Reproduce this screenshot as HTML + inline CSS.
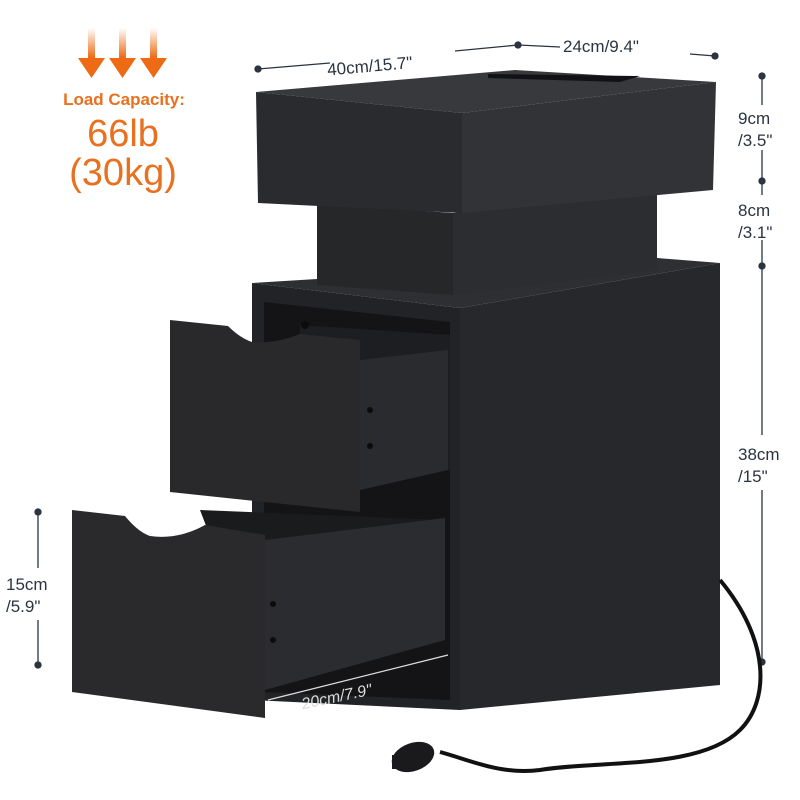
<!DOCTYPE html>
<html><head><meta charset="utf-8"><style>
html,body{margin:0;padding:0;background:#fff;width:800px;height:800px;overflow:hidden}
svg{display:block}
text{font-family:"Liberation Sans",sans-serif}
</style></head><body>
<svg width="800" height="800" viewBox="0 0 800 800" xmlns="http://www.w3.org/2000/svg">
<defs>
<linearGradient id="ag" x1="0" y1="0" x2="0" y2="1"><stop offset="0" stop-color="#ee6a14" stop-opacity="0"/><stop offset="1" stop-color="#ee6a14"/></linearGradient>
</defs>
<g fill="url(#ag)"><rect x="88" y="28" width="7" height="30"/><rect x="119" y="28" width="7" height="30"/><rect x="150" y="28" width="7" height="30"/></g>
<g fill="#ee6a14"><polygon points="78,58 105,58 91.5,78"/><polygon points="109,58 136,58 122.5,78"/><polygon points="140,58 167,58 153.5,78"/></g>
<text x="124" y="105" font-size="17" font-weight="bold" fill="#e8701e" text-anchor="middle">Load Capacity:</text>
<text x="123" y="146" font-size="38" fill="#e8701e" text-anchor="middle">66lb</text>
<text x="123" y="185" font-size="38" fill="#e8701e" text-anchor="middle">(30kg)</text>

<g stroke="#2b3440" stroke-width="1.3" fill="#2b3440">
<line x1="258" y1="69" x2="330" y2="63"/><line x1="455" y1="51" x2="518" y2="45"/>
<line x1="518" y1="45" x2="560" y2="47"/><line x1="690" y1="54" x2="715" y2="56"/>
<circle cx="258" cy="69" r="3"/><circle cx="518" cy="45" r="3"/><circle cx="715" cy="56" r="3"/>
<line x1="762" y1="76" x2="762" y2="105"/><line x1="762" y1="150" x2="762" y2="195"/><line x1="762" y1="240" x2="762" y2="435"/><line x1="762" y1="490" x2="762" y2="662"/>
<circle cx="762" cy="76" r="3"/><circle cx="762" cy="181" r="3"/><circle cx="762" cy="266" r="3"/><circle cx="762" cy="662" r="3"/>
<line x1="38" y1="512" x2="38" y2="568"/><line x1="38" y1="620" x2="38" y2="665"/>
<circle cx="38" cy="512" r="3"/><circle cx="38" cy="665" r="3"/>
</g>
<g font-size="17" fill="#2b3440">
<text x="327" y="70" transform="rotate(-5 390 64)">40cm/15.7"</text>
<text x="563" y="52">24cm/9.4"</text>
<text x="738" y="124">9cm</text><text x="738" y="146">/3.5"</text>
<text x="738" y="216">8cm</text><text x="738" y="238">/3.1"</text>
<text x="738" y="460">38cm</text><text x="738" y="482">/15"</text>
<text x="6" y="590">15cm</text><text x="6" y="612">/5.9"</text>
</g>

<polygon points="252,283 657,258 720,263 460,308" fill="#2e2f33"/>
<polygon points="460,308 720,263 720,685 460,710" fill="#27282b"/>
<polygon points="252,283 460,308 460,710 252,700" fill="#222326"/>
<polygon points="264,302 450,322 450,700 264,692" fill="#141416"/>
<polygon points="300,325 450,335 450,470 360,480 300,470" fill="#1d1e21"/>
<polygon points="360,360 448,350 448,470 360,490" fill="#2a2b2e"/>
<path d="M170,320 L228,326 Q240,338 252,342 Q275,344 300,334 L360,340 L360,512 L170,492 Z" fill="#29292c"/>
<polygon points="200,510 445,520 445,640 265,680" fill="#1a1b1d"/>
<polygon points="265,540 445,518 445,640 265,690" fill="#2b2c2f"/>
<path d="M72,510 L125,516 Q138,532 150,536 Q178,540 205,525 L265,535 L265,718 L72,692 Z" fill="#2a2a2d"/>
<g fill="#0c0c0d"><circle cx="370" cy="410" r="3"/><circle cx="370" cy="446" r="3"/><circle cx="273" cy="604" r="3"/><circle cx="273" cy="640" r="3"/><circle cx="305" cy="325" r="4"/></g>
<line x1="268" y1="700" x2="448" y2="655" stroke="#ddd" stroke-width="1.3"/>
<text x="300" y="697" font-size="16" fill="#ddd" font-style="italic" transform="rotate(-12 360 690)">20cm/7.9"</text>

<polygon points="317,203 453,213 453,295 317,285" fill="#262729"/>
<polygon points="453,213 657,190 657,270 453,295" fill="#2c2d30"/>
<polygon points="256,92 515,70 716,82 462,113" fill="#38393c"/>
<polygon points="256,92 462,113 462,213 258,203" fill="#2a2b2e"/>
<polygon points="462,113 716,82 713,190 462,213" fill="#323336"/>
<polygon points="488,74 640,76 620,82 488,78" fill="#121214"/>

<path d="M720,580 C770,640 770,700 740,730 C700,770 600,760 540,770 C500,775 470,760 440,752" stroke="#111" stroke-width="4" fill="none"/>
<ellipse cx="413" cy="757" rx="22" ry="14" fill="#1a1a1c" transform="rotate(-20 413 757)"/>
<rect x="392" y="755" width="10" height="14" fill="#1a1a1c"/>
</svg>
</body></html>
